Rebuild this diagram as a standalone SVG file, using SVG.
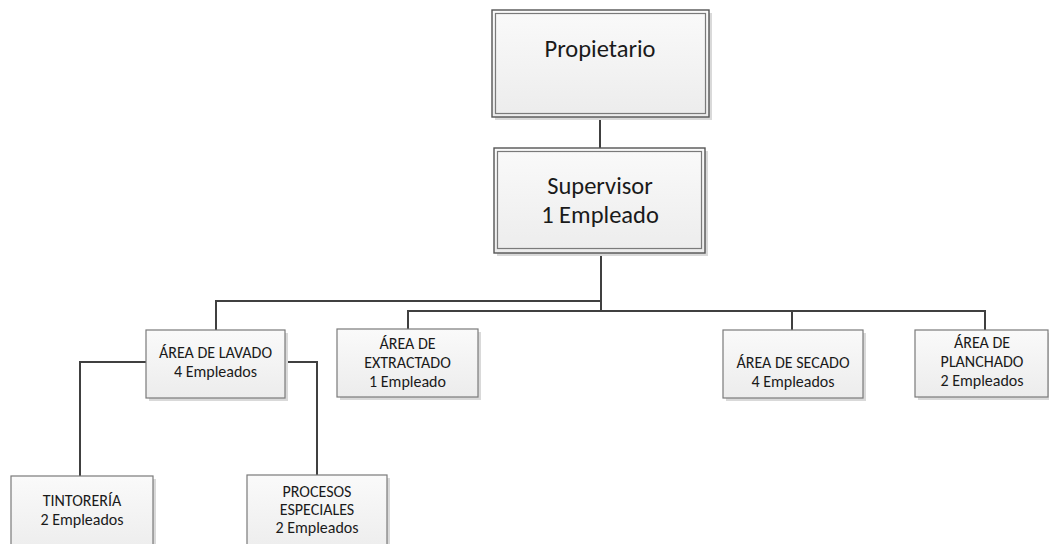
<svg xmlns="http://www.w3.org/2000/svg" width="1049" height="544" viewBox="0 0 1049 544">
<defs>
<linearGradient id="fill" x1="0" y1="0" x2="0" y2="1">
<stop offset="0" stop-color="#fafafa"/>
<stop offset="1" stop-color="#ececec"/>
</linearGradient>
<style>
.shadow{fill:#d9d9d9;stroke:none}
.box{fill:url(#fill);stroke:#7a7a7a;stroke-width:1.2}
.outer{fill:url(#fill);stroke:#555;stroke-width:1.4}
.inner{fill:none;stroke:#7a7a7a;stroke-width:1.2}
.big{font-family:Carlito,Lato,"Liberation Sans",sans-serif;font-size:24.5px;fill:#1a1a1a;text-anchor:middle}
.small{font-family:Carlito,Lato,"Liberation Sans",sans-serif;font-size:16px;fill:#1a1a1a;text-anchor:middle}
.conn{fill:none;stroke:#404040;stroke-width:2}
</style>
</defs>
<rect width="1049" height="544" fill="#fff"/>
<g id="connectors">
<path class="conn" d="M600,117 V148"/>
<path class="conn" d="M601,253 V311"/>
<path class="conn" d="M601,301 H216 V330"/>
<path class="conn" d="M408,329 V311 H985 V330"/>
<path class="conn" d="M792,311 V330"/>
<path class="conn" d="M146,362 H80 V476"/>
<path class="conn" d="M285,362 H317 V475"/>
</g>
<g id="propietario">
<rect class="shadow" x="495" y="13" width="217" height="107"/>
<rect class="outer" x="492" y="10" width="217" height="107"/>
<rect class="inner" x="495.5" y="13.5" width="210" height="100"/>
<text class="big" x="600" y="57">Propietario</text>
</g>
<g id="supervisor">
<rect class="shadow" x="497" y="151" width="211" height="105"/>
<rect class="outer" x="494" y="148" width="211" height="105"/>
<rect class="inner" x="497.5" y="151.5" width="204" height="97"/>
<text class="big" x="600" y="194">Supervisor</text>
<text class="big" x="600" y="223">1 Empleado</text>
</g>
<g id="lavado">
<rect class="shadow" x="149" y="333" width="139" height="68"/>
<rect class="box" x="146" y="330" width="139" height="68"/>
<text class="small" x="215.5" y="358">ÁREA DE LAVADO</text>
<text class="small" x="215.5" y="377">4 Empleados</text>
</g>
<g id="extractado">
<rect class="shadow" x="340" y="332" width="141" height="68"/>
<rect class="box" x="337" y="329" width="141" height="68"/>
<text class="small" x="407.5" y="349">ÁREA DE</text>
<text class="small" x="407.5" y="368">EXTRACTADO</text>
<text class="small" x="407.5" y="387">1 Empleado</text>
</g>
<g id="secado">
<rect class="shadow" x="726" y="333" width="140" height="68"/>
<rect class="box" x="723" y="330" width="140" height="68"/>
<text class="small" x="793" y="368">ÁREA DE SECADO</text>
<text class="small" x="793" y="387">4 Empleados</text>
</g>
<g id="planchado">
<rect class="shadow" x="918" y="333" width="140" height="67"/>
<rect class="box" x="915" y="330" width="133" height="67"/>
<text class="small" x="982" y="348">ÁREA DE</text>
<text class="small" x="982" y="367">PLANCHADO</text>
<text class="small" x="982" y="386">2 Empleados</text>
</g>
<g id="tintoreria">
<rect class="shadow" x="14" y="479" width="142" height="80"/>
<rect class="box" x="11" y="476" width="142" height="80"/>
<text class="small" x="82" y="506">TINTORERÍA</text>
<text class="small" x="82" y="525">2 Empleados</text>
</g>
<g id="procesos">
<rect class="shadow" x="250" y="478" width="140" height="80"/>
<rect class="box" x="247" y="475" width="140" height="80"/>
<text class="small" x="317" y="497">PROCESOS</text>
<text class="small" x="317" y="515">ESPECIALES</text>
<text class="small" x="317" y="533">2 Empleados</text>
</g>
</svg>
